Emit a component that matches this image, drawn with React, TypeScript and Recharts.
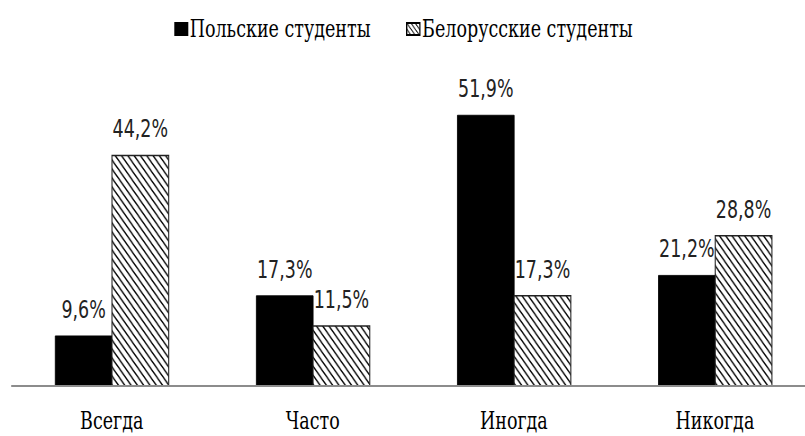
import { Bar, BarChart, LabelList, XAxis, YAxis } from "recharts";

const categories = ["Всегда", "Часто", "Иногда", "Никогда"];
const polishValues = [9.6, 17.3, 51.9, 21.2];
const belarusValues = [44.2, 11.5, 17.3, 28.8];
const seriesNames = ["Польские студенты", "Белорусские студенты"];

const data = categories.map((name, i) => ({
  name,
  polish: polishValues[i],
  belarus: belarusValues[i],
}));

// the reference looks horizontally squeezed, so draw wide and squash
const SQUASH = 0.7;
const serif = "'DejaVu Serif', serif";
const sans = "'DejaVu Sans', sans-serif";

const formatPct = (v: number) => `${String(v).replace(".", ",")}%`;

const HatchSwatch = () => (
  <svg width={21} height={14} style={{ display: "block" }}>
    <defs>
      <pattern id="hatch-swatch" width={6} height={6} patternUnits="userSpaceOnUse">
        <path d="M-1,-1 L7,7 M-1,5 L1,7 M5,-1 L7,1" stroke="#000" strokeWidth={1.2} />
      </pattern>
    </defs>
    <rect x={1} y={1} width={19} height={12} fill="url(#hatch-swatch)" stroke="#000" strokeWidth={2} />
  </svg>
);

const legendText = {
  fontFamily: serif,
  fontSize: 25,
  lineHeight: "30px",
  color: "#000",
  whiteSpace: "nowrap" as const,
};

const LegendRow = () => (
  <>
    <div style={{ position: "absolute", left: 249, top: 14, display: "flex", alignItems: "center", ...legendText }}>
      <div style={{ width: 20, height: 14, background: "#000", marginRight: 2 }} />
      <span>{seriesNames[0]}</span>
    </div>
    <div style={{ position: "absolute", left: 580, top: 14, display: "flex", alignItems: "center", ...legendText }}>
      <div style={{ marginRight: 2 }}>
        <HatchSwatch />
      </div>
      <span>{seriesNames[1]}</span>
    </div>
  </>
);

export default function App() {
  return (
    <div
      style={{
        position: "absolute",
        left: 0,
        top: 0,
        width: 805,
        height: 436,
        overflow: "hidden",
        background: "#fff",
      }}
    >
      <div
        style={{
          position: "relative",
          width: 1180,
          height: 436,
          transform: `scaleX(${SQUASH})`,
          transformOrigin: "left top",
        }}
      >
        <LegendRow />
        <BarChart
          width={1180}
          height={436}
          data={data}
          margin={{ top: 73, right: 15, bottom: 0, left: 16 }}
          barGap={0}
          barSize={81}
        >
          <defs>
            <pattern id="hatch" width={9} height={9} patternUnits="userSpaceOnUse">
              <rect width={9} height={9} fill="#fff" />
              <path d="M-2,-2 L11,11 M-2,7 L2,11 M7,-2 L11,2" stroke="#000" strokeWidth={1.6} />
            </pattern>
          </defs>
          <YAxis hide domain={[0, 60]} />
          <XAxis
            dataKey="name"
            height={50}
            tickLine={false}
            tickSize={0}
            tickMargin={25}
            axisLine={{ stroke: "#8c8c8c", strokeWidth: 2 }}
            tick={{ fill: "#000", fontFamily: serif, fontSize: 25 }}
            interval={0}
          />
          <Bar dataKey="polish" fill="#000" stroke="#000" isAnimationActive={false}>
            <LabelList
              dataKey="polish"
              position="top"
              offset={18}
              formatter={(v: any) => formatPct(Number(v))}
              style={{ fill: "#222", fontFamily: sans, fontSize: 25 }}
            />
          </Bar>
          <Bar dataKey="belarus" fill="url(#hatch)" stroke="#222" strokeWidth={1.5} isAnimationActive={false}>
            <LabelList
              dataKey="belarus"
              position="top"
              offset={18}
              formatter={(v: any) => formatPct(Number(v))}
              style={{ fill: "#222", fontFamily: sans, fontSize: 25 }}
            />
          </Bar>
        </BarChart>
      </div>
    </div>
  );
}
